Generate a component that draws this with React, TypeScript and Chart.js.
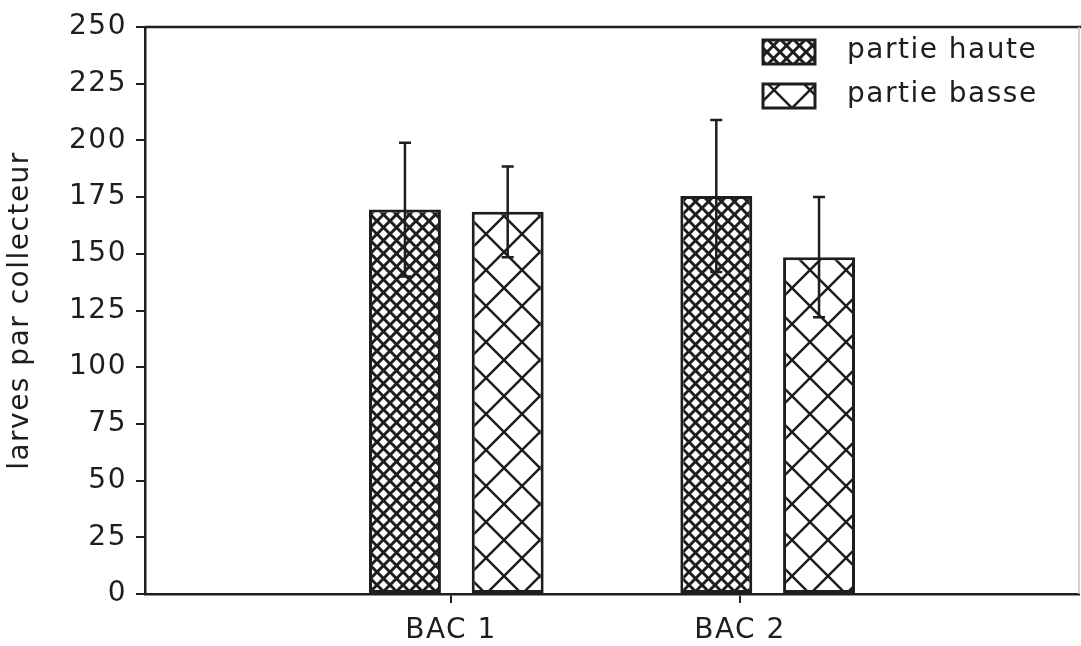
import React, { useEffect, useRef } from "react";
import { Chart, registerables } from "chart.js";

Chart.register(...registerables);

const categories = ["BAC 1", "BAC 2"];
const seriesNames = ["partie haute", "partie basse"];
const hauteValues = [169.5, 175.5];
const basseValues = [168.5, 148.5];
const hauteErrors = [29.5, 33.5];
const basseErrors = [20, 26.5];
const yTicks = [0, 25, 50, 75, 100, 125, 150, 175, 200, 225, 250];

const INK = "#1e1e1e";
const FONT = "'DejaVu Sans', 'Liberation Sans', sans-serif";
const SPACING = "1.5px";
const FS = 28;

function makePattern(ctx: CanvasRenderingContext2D, s: number, lw: number) {
  const c = document.createElement("canvas");
  c.width = s;
  c.height = s;
  const g = c.getContext("2d")!;
  g.fillStyle = "#ffffff";
  g.fillRect(0, 0, s, s);
  g.strokeStyle = INK;
  g.lineWidth = lw;
  g.lineCap = "square";
  for (let k = -1; k <= 1; k++) {
    g.beginPath();
    g.moveTo(k * s, 0);
    g.lineTo(k * s + s, s);
    g.stroke();
    g.beginPath();
    g.moveTo(k * s + s, 0);
    g.lineTo(k * s, s);
    g.stroke();
  }
  return ctx.createPattern(c, "repeat")!;
}

export default function App() {
  const ref = useRef<HTMLCanvasElement>(null);

  useEffect(() => {
    const canvas = ref.current!;
    const ctx = canvas.getContext("2d")!;
    const dense = makePattern(ctx, 13, 3);
    const sparse = makePattern(ctx, 36, 2.5);
    const labels = ["", ...categories, ""];
    const pad = (a: number[]) => [null, ...a, null];
    const errors = [hauteErrors, basseErrors];
    const patterns = [dense, sparse];

    const spacingPlugin = {
      id: "spacing",
      beforeLayout(chart: any) {
        (chart.ctx as any).letterSpacing = SPACING;
      },
      beforeDraw(chart: any) {
        (chart.ctx as any).letterSpacing = SPACING;
      },
    };

    const errorPlugin = {
      id: "errorbars",
      afterDatasetsDraw(chart: any) {
        const c = chart.ctx;
        const y = chart.scales.y;
        c.save();
        c.strokeStyle = INK;
        c.lineWidth = 2.5;
        chart.data.datasets.forEach((ds: any, di: number) => {
          const meta = chart.getDatasetMeta(di);
          meta.data.forEach((bar: any, i: number) => {
            const v = ds.data[i];
            if (v == null) return;
            const e = errors[di][i - 1];
            const yt = y.getPixelForValue(v + e);
            const yb = y.getPixelForValue(v - e);
            c.beginPath();
            c.moveTo(bar.x, yt);
            c.lineTo(bar.x, yb);
            c.moveTo(bar.x - 6, yt);
            c.lineTo(bar.x + 6, yt);
            c.moveTo(bar.x - 6, yb);
            c.lineTo(bar.x + 6, yb);
            c.stroke();
          });
        });
        c.restore();
      },
    };

    const framePlugin = {
      id: "frame",
      afterDraw(chart: any) {
        const c = chart.ctx;
        const a = chart.chartArea;
        c.save();
        c.strokeStyle = INK;
        c.lineWidth = 2.5;
        c.beginPath();
        c.moveTo(a.left, a.top);
        c.lineTo(a.right + 2, a.top);
        c.stroke();
        c.strokeStyle = "#c4c4c4";
        c.lineWidth = 1.5;
        c.beginPath();
        c.moveTo(a.right, a.top);
        c.lineTo(a.right, a.bottom);
        c.stroke();
        // legend
        const bx = 763, bw = 52, bh = 24;
        const rows = [40, 84];
        c.font = `${FS}px ${FONT}`;
        (c as any).letterSpacing = SPACING;
        c.textBaseline = "middle";
        c.textAlign = "left";
        rows.forEach((ry, i) => {
          c.fillStyle = patterns[i];
          c.fillRect(bx, ry, bw, bh);
          c.strokeStyle = INK;
          c.lineWidth = 3;
          c.strokeRect(bx, ry, bw, bh);
          c.fillStyle = INK;
          c.fillText(seriesNames[i], 847, ry + bh / 2 - 1);
        });
        c.restore();
      },
    };

    const chart = new Chart(ctx, {
      type: "bar",
      data: {
        labels,
        datasets: [
          {
            label: seriesNames[0],
            data: pad(hauteValues) as any,
            backgroundColor: dense,
            borderColor: INK,
            borderWidth: 3,
            borderSkipped: false,
          },
          {
            label: seriesNames[1],
            data: pad(basseValues) as any,
            backgroundColor: sparse,
            borderColor: INK,
            borderWidth: 3,
            borderSkipped: false,
          },
        ],
      },
      options: {
        responsive: false,
        animation: false,
        events: [],
        devicePixelRatio: 1,
        layout: { padding: { top: 27, right: 2, left: 0, bottom: 0 } },
        datasets: {
          bar: { categoryPercentage: 0.66, barPercentage: 0.7 },
        },
        plugins: {
          legend: { display: false },
          tooltip: { enabled: false },
        },
        scales: {
          x: {
            type: "category",
            display: false,
            offset: false,
            grid: { display: false, offset: false },
          },
          x2: {
            type: "linear",
            position: "bottom",
            offset: false,
            min: -0.059,
            max: 3.173,
            afterBuildTicks: (scale: any) => {
              scale.ticks = categories.map((_, i) => ({ value: i + 1 }));
            },
            afterFit: (scale: any) => {
              scale.height = 52;
            },
            ticks: {
              autoSkip: false,
              maxRotation: 0,
              padding: 11,
              color: INK,
              font: { family: FONT, size: FS },
              callback: (v: any) => categories[Number(v) - 1] ?? "",
            },
            grid: {
              offset: false,
              drawOnChartArea: false,
              drawTicks: true,
              tickLength: 9,
              color: INK,
              lineWidth: 2,
            },
            border: { display: true, color: INK, width: 2.5 },
          },
          y: {
            min: 0,
            max: 250,
            afterBuildTicks: (scale: any) => {
              scale.ticks = yTicks.map((v) => ({ value: v }));
            },
            afterFit: (scale: any) => {
              scale.width = 145;
            },
            ticks: {
              padding: 9,
              color: INK,
              font: { family: FONT, size: FS },
            },
            title: {
              display: true,
              text: "larves par collecteur",
              color: INK,
              font: { family: FONT, size: FS },
              padding: { top: 4, bottom: 0 },
            },
            grid: {
              drawOnChartArea: false,
              drawTicks: true,
              tickLength: 9,
              color: INK,
              lineWidth: 2,
            },
            border: { display: true, color: INK, width: 2.5 },
          },
        },
      },
      plugins: [spacingPlugin, errorPlugin, framePlugin],
    });
    return () => chart.destroy();
  }, []);

  return (
    <div style={{ position: "absolute", left: 0, top: 0, width: 1081, height: 646, background: "#fff" }}>
      <canvas ref={ref} width={1081} height={646} style={{ display: "block" }} />
    </div>
  );
}
